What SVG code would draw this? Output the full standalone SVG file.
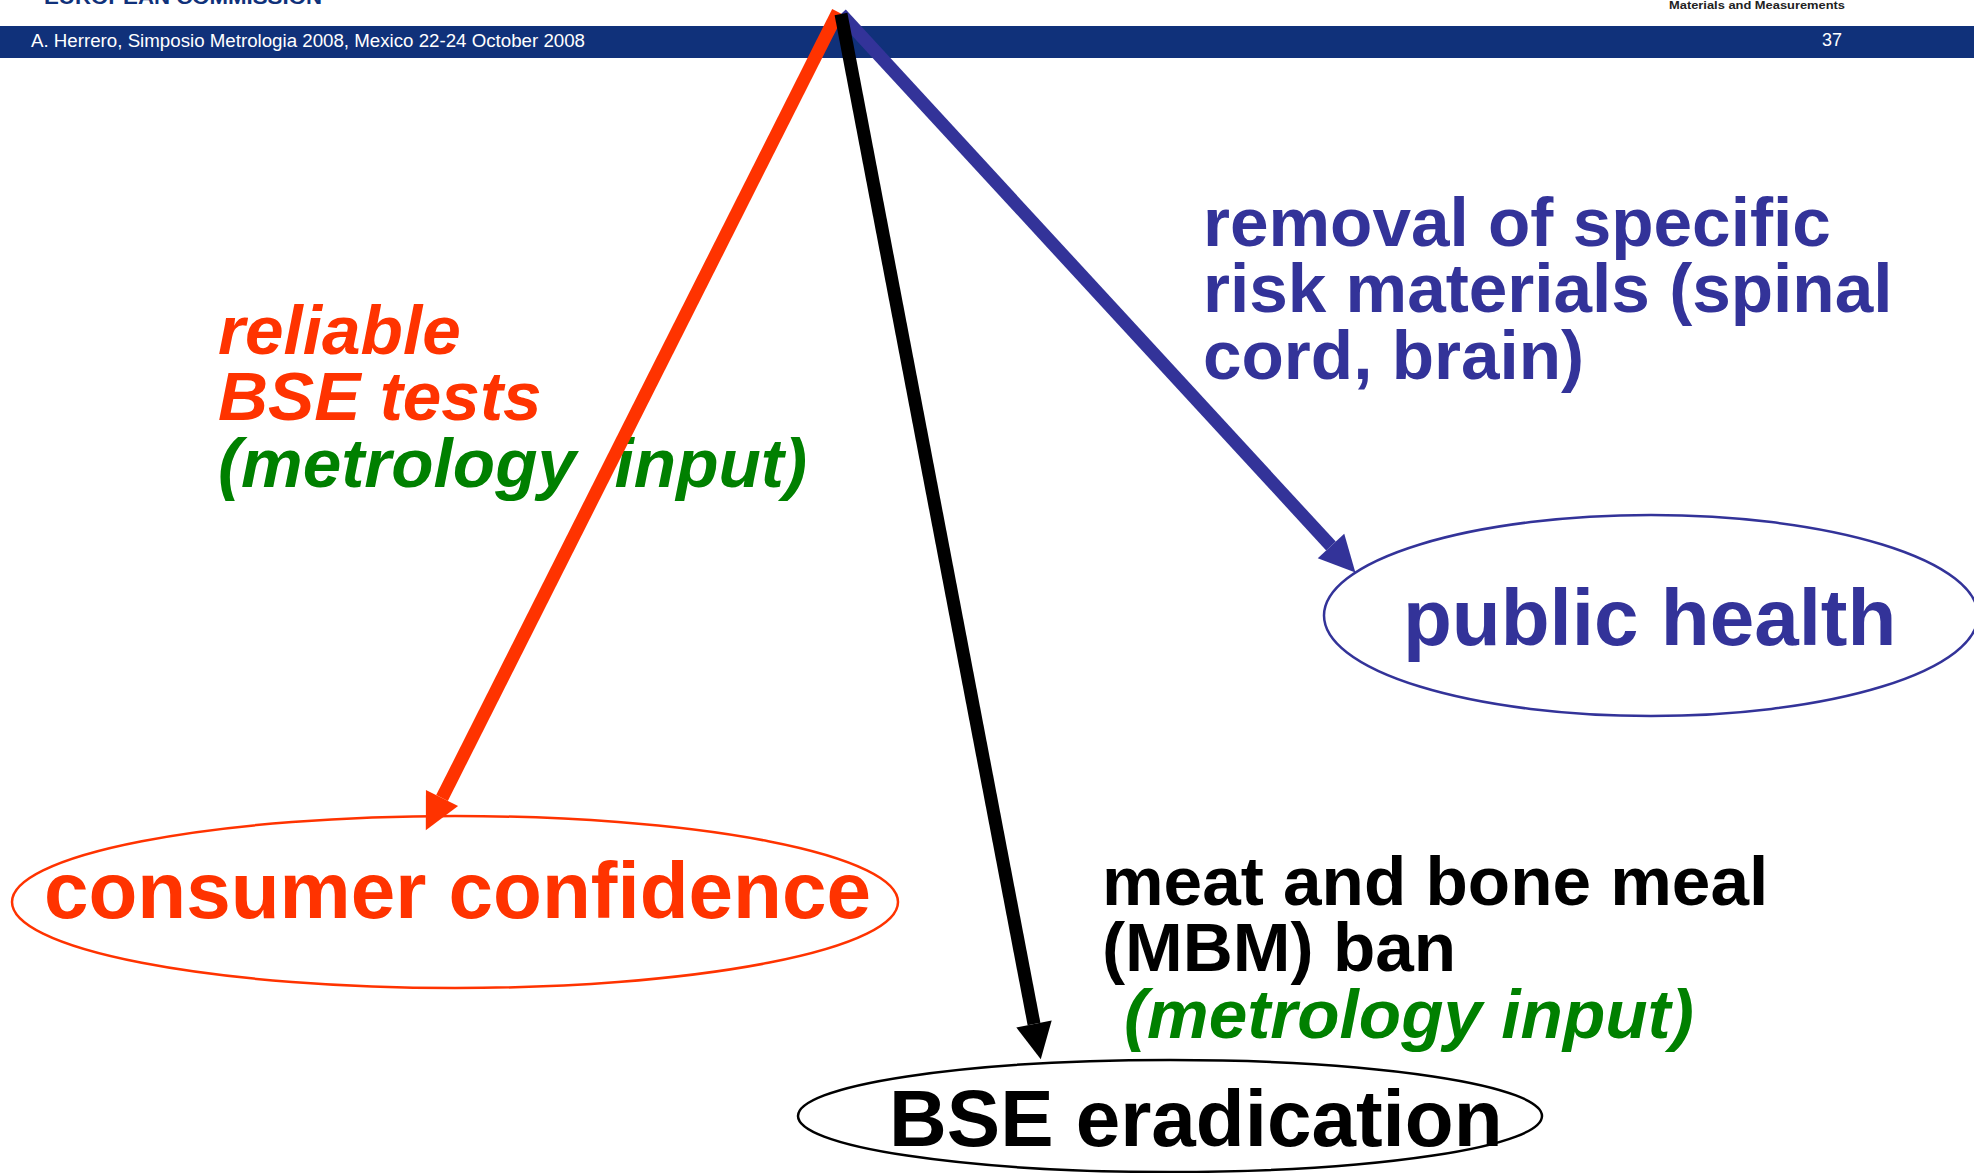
<svg xmlns="http://www.w3.org/2000/svg" width="1974" height="1173" viewBox="0 0 1974 1173">
<style>
text{font-family:"Liberation Sans",Arial,sans-serif;white-space:pre}
.b{font-weight:700}
.bi{font-weight:700;font-style:italic}
.lab{font-size:69.3px}
.big{font-size:80px}
.foot{font-size:18px;fill:#fff}
.red{fill:#ff3300}.blue{fill:#333399}.grn{fill:#008000}.blk{fill:#000}
.el{fill:none;stroke-width:2.5}
.c{fill:none;stroke-width:13}
</style>
<defs>
<marker id="hr" markerUnits="userSpaceOnUse" markerWidth="38" markerHeight="38" refX="1" refY="19" orient="auto"><path d="M1,1L37,19L1,37Z" fill="#ff3300"/></marker>
<marker id="hk" markerUnits="userSpaceOnUse" markerWidth="38" markerHeight="38" refX="1" refY="19" orient="auto"><path d="M1,1L37,19L1,37Z" fill="#000"/></marker>
<marker id="hb" markerUnits="userSpaceOnUse" markerWidth="38" markerHeight="38" refX="1" refY="19" orient="auto"><path d="M1,1L37,19L1,37Z" fill="#333399"/></marker>
</defs>
<rect width="1974" height="1173" fill="#fff"/>
<g id="header">
<rect x="0" y="26" width="1974" height="32" fill="#10317a"/>
<text class="foot" x="31" y="47" textLength="554" lengthAdjust="spacingAndGlyphs">A. Herrero, Simposio Metrologia 2008, Mexico 22-24 October 2008</text>
<text class="foot" x="1822" y="46">37</text>
<text class="b" x="44" y="4" font-size="20" fill="#10317a" textLength="278" lengthAdjust="spacingAndGlyphs">EUROPEAN COMMISSION</text>
<text class="b" x="1669" y="9" font-size="11" fill="#222" textLength="176" lengthAdjust="spacingAndGlyphs">Materials and Measurements</text>
</g>
<g id="node-consumer">
<ellipse class="el" cx="455" cy="902" rx="443" ry="86" stroke="#ff3300"/>
<text class="b big red" x="44" y="918">consumer confidence</text>
</g>
<g id="node-health">
<ellipse class="el" cx="1651" cy="615.5" rx="327" ry="100.5" stroke="#333399"/>
<text class="b big blue" x="1403" y="645">public health</text>
</g>
<g id="node-bse">
<ellipse class="el" cx="1170" cy="1116" rx="372" ry="56" stroke="#000"/>
<text class="b big blk" x="889" y="1146">BSE eradication</text>
</g>
<g id="labels">
<text class="bi lab red" x="218" y="354">reliable</text>
<text class="bi lab red" x="218" y="420">BSE tests</text>
<text class="bi lab grn" x="218" y="487">(metrology  input)</text>
<text class="b lab blue" x="1203" y="246">removal of specific</text>
<text class="b lab blue" x="1203" y="312">risk materials (spinal</text>
<text class="b lab blue" x="1203" y="379">cord, brain)</text>
<text class="b lab blk" x="1102" y="905">meat and bone meal</text>
<text class="b lab blk" x="1102" y="971">(MBM) ban</text>
<text class="bi lab grn" x="1124" y="1038">(metrology input)</text>
</g>
<g id="connectors">
<path class="c" d="M838,12L442,798" stroke="#ff3300" marker-end="url(#hr)"/>
<path class="c" d="M841,14L1331,546" stroke="#333399" marker-end="url(#hb)"/>
<path class="c" d="M841,14L1034,1024" stroke="#000" marker-end="url(#hk)"/>
</g>
</svg>
